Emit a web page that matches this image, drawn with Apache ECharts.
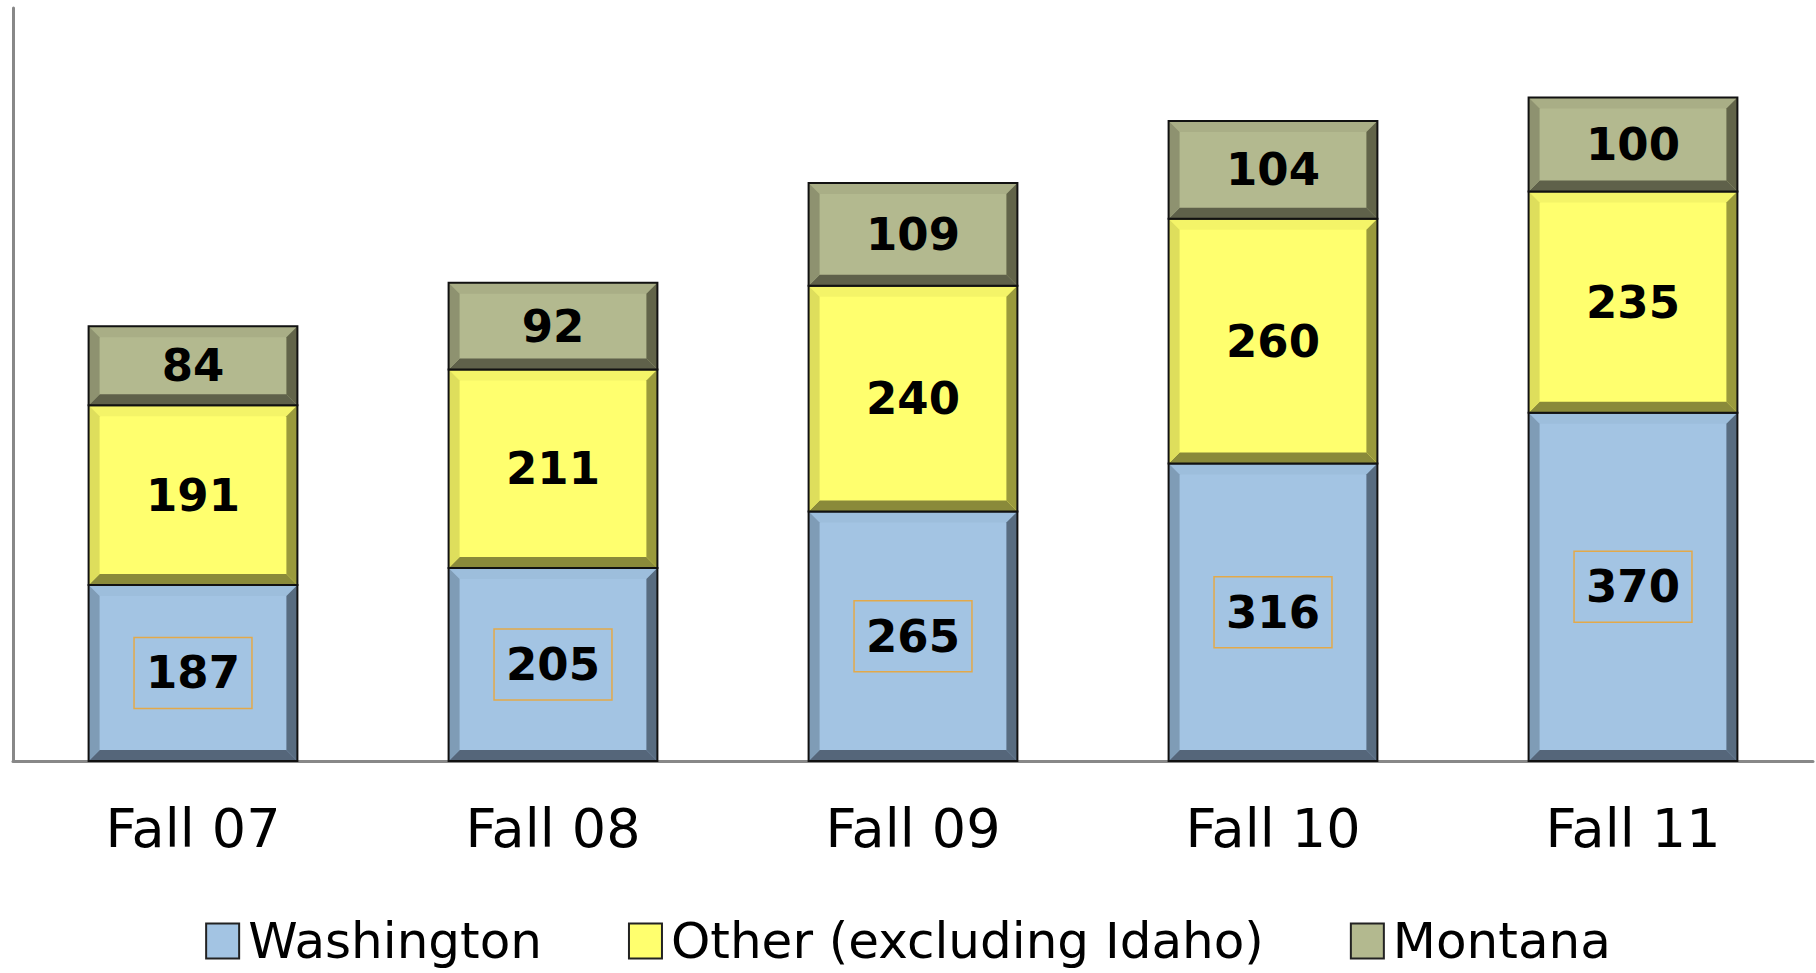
<!DOCTYPE html>
<html>
<head>
<meta charset="utf-8">
<script src="https://cdn.jsdelivr.net/npm/echarts@6/dist/echarts.min.js"></script>
<style>
  html, body { margin: 0; padding: 0; background: #fff; }
  #chart { width: 1816px; height: 973px; }
</style>
</head>
<body>
<div id="chart"></div>
<script>
(function() {
  var categories = ['Fall 07', 'Fall 08', 'Fall 09', 'Fall 10', 'Fall 11'];
  var washington = [187, 205, 265, 316, 370];
  var other = [191, 211, 240, 260, 235];
  var montana = [84, 92, 109, 104, 100];
  var seriesNames = ['Washington', 'Other (excluding Idaho)', 'Montana'];

  var FONT = 'DejaVu Sans';

  // fill, top, left, right, bottom
  var palette = [
    { fill: '#a3c4e3', top: '#9dbedc', left: '#7f9cb6', right: '#586c80', bottom: '#55667a' },
    { fill: '#ffff6e', top: '#f4f468', left: '#dede5c', right: '#9a9a3c', bottom: '#8a8a3a' },
    { fill: '#b3b98f', top: '#a9ae86', left: '#8e9270', right: '#626449', bottom: '#5f614a' }
  ];

  var myChart = echarts.init(document.getElementById('chart'), null, { renderer: 'svg' });

  // stacked [index, base, value]
  function stackData(list, below) {
    return list.map(function(v, i) {
      var base = 0;
      below.forEach(function(arr) { base += arr[i]; });
      return [i, base, v];
    });
  }

  function makeRender(pal, boxed) {
    return function(params, api) {
      var idx = api.value(0);
      var base = api.value(1);
      var val = api.value(2);
      var p0 = api.coord([idx, base]);
      var p1 = api.coord([idx, base + val]);
      var w = api.size([1, 0])[0] * 0.58;
      var x = p0[0] - w / 2;
      var y = p1[1];
      var h = p0[1] - p1[1];
      var b = 11;
      var poly = function(pts, c) {
        return { type: 'polygon', shape: { points: pts }, style: { fill: c } };
      };
      var label = {
        type: 'text',
        x: x + w / 2,
        y: y + h / 2,
        style: {
          text: String(val),
          fill: '#000',
          font: 'bold 45px "' + FONT + '"',
          align: 'center',
          verticalAlign: 'middle'
        }
      };
      if (boxed) {
        label.style.borderColor = '#e3a94a';
        label.style.borderWidth = 1.5;
        label.style.padding = [14, 12, 12, 12];
      }
      return {
        type: 'group',
        children: [
          { type: 'rect', shape: { x: x, y: y, width: w, height: h }, style: { fill: pal.fill } },
          poly([[x, y], [x + w, y], [x + w - b, y + b], [x + b, y + b]], pal.top),
          poly([[x, y + h], [x + w, y + h], [x + w - b, y + h - b], [x + b, y + h - b]], pal.bottom),
          poly([[x, y], [x + b, y + b], [x + b, y + h - b], [x, y + h]], pal.left),
          poly([[x + w, y], [x + w - b, y + b], [x + w - b, y + h - b], [x + w, y + h]], pal.right),
          { type: 'rect', shape: { x: x, y: y, width: w, height: h }, style: { fill: 'none', stroke: '#111', lineWidth: 2 } },
          label
        ]
      };
    };
  }

  var dataSets = [
    stackData(washington, []),
    stackData(other, [washington]),
    stackData(montana, [washington, other])
  ];

  var series = seriesNames.map(function(name, k) {
    return {
      name: name,
      type: 'custom',
      renderItem: makeRender(palette[k], k === 0),
      encode: { x: 0, y: [1, 2] },
      itemStyle: { color: palette[k].fill, borderColor: '#222', borderWidth: 2 },
      data: dataSets[k]
    };
  });

  var option = {
    animation: false,
    grid: { left: 13, right: 3, top: 8, bottom: 212, containLabel: false },
    legend: {
      data: seriesNames,
      bottom: 2,
      left: 'center',
      icon: 'rect',
      itemWidth: 33,
      itemHeight: 35,
      itemGap: 86,
      itemStyle: { borderColor: '#222', borderWidth: 2 },
      textStyle: { fontFamily: FONT, fontSize: 50, color: '#000', padding: [0, 0, 0, 4] }
    },
    xAxis: {
      type: 'category',
      data: categories,
      axisLine: { lineStyle: { color: '#888', width: 3 } },
      axisTick: { show: false },
      axisLabel: { fontFamily: FONT, fontSize: 54, color: '#000', margin: 40 }
    },
    yAxis: {
      type: 'value',
      min: 0,
      max: 800,
      splitLine: { show: false },
      axisLabel: { show: false },
      axisTick: { show: false },
      axisLine: { show: true, lineStyle: { color: '#888', width: 3 } }
    },
    series: series
  };

  myChart.setOption(option);
  window.addEventListener('resize', function() {
    myChart.resize();
  });
})();
</script>
</body>
</html>
